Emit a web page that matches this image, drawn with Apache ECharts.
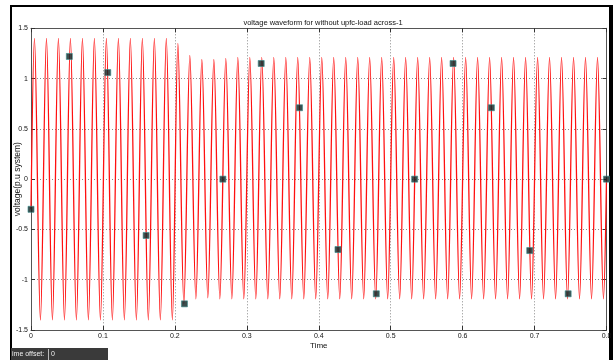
<!DOCTYPE html>
<html>
<head>
<meta charset="utf-8">
<script src="https://cdn.jsdelivr.net/npm/echarts@6/dist/echarts.min.js"></script>
<style>
  html, body { margin: 0; padding: 0; background: #fff; }
  #chart { width: 613px; height: 360px; }
</style>
</head>
<body>
<div id="chart"></div>
<script>
// waveform extrema (time in s, voltage in p.u)
const startPoint = [0, -0.3];
const endPoint = [0.8, 0];

const peakT = [0.0048, 0.0215, 0.0381, 0.0548, 0.0715, 0.0881, 0.1048, 0.1215, 0.1381, 0.1548, 0.1715, 0.1881,
  0.2042, 0.2208, 0.2375, 0.2542, 0.2708, 0.2875, 0.3042, 0.3208, 0.3375, 0.3542, 0.3708, 0.3875,
  0.4042, 0.4208, 0.4375, 0.4542, 0.4708, 0.4875, 0.5042, 0.5208, 0.5375, 0.5542, 0.5708, 0.5875,
  0.6042, 0.6208, 0.6375, 0.6542, 0.6708, 0.6875, 0.7042, 0.7208, 0.7375, 0.7542, 0.7708, 0.7875];
const peakV = [1.4, 1.4, 1.4, 1.4, 1.4, 1.4, 1.4, 1.4, 1.4, 1.4, 1.4, 1.4,
  1.35, 1.23, 1.19, 1.19, 1.2, 1.21, 1.21, 1.21, 1.21, 1.21, 1.21, 1.21,
  1.21, 1.21, 1.21, 1.21, 1.21, 1.21, 1.21, 1.21, 1.21, 1.21, 1.21, 1.21,
  1.21, 1.21, 1.21, 1.21, 1.21, 1.21, 1.21, 1.21, 1.21, 1.21, 1.21, 1.21];

const troughT = [0.0131, 0.0298, 0.0465, 0.0631, 0.0798, 0.0965, 0.1131, 0.1298, 0.1465, 0.1631, 0.1798, 0.1965,
  0.2125, 0.2292, 0.2458, 0.2625, 0.2792, 0.2958, 0.3125, 0.3292, 0.3458, 0.3625, 0.3792, 0.3958,
  0.4125, 0.4292, 0.4458, 0.4625, 0.4792, 0.4958, 0.5125, 0.5292, 0.5458, 0.5625, 0.5792, 0.5958,
  0.6125, 0.6292, 0.6458, 0.6625, 0.6792, 0.6958, 0.7125, 0.7292, 0.7458, 0.7625, 0.7792, 0.7958];
const troughV = [-1.4, -1.4, -1.4, -1.4, -1.4, -1.4, -1.4, -1.4, -1.4, -1.4, -1.4, -1.4,
  -1.24, -1.19, -1.18, -1.19, -1.19, -1.19, -1.19, -1.19, -1.19, -1.19, -1.19, -1.19,
  -1.19, -1.19, -1.19, -1.19, -1.19, -1.19, -1.19, -1.19, -1.19, -1.19, -1.19, -1.19,
  -1.19, -1.19, -1.19, -1.19, -1.19, -1.19, -1.19, -1.19, -1.19, -1.19, -1.19, -1.19];

// black square sample markers
const markT = [0, 0.0533, 0.1067, 0.16, 0.2133, 0.2667, 0.32, 0.3733, 0.4267, 0.48, 0.5333, 0.5867, 0.64, 0.6933, 0.7467, 0.8];
const markV = [-0.3, 1.22, 1.06, -0.56, -1.24, 0, 1.15, 0.71, -0.7, -1.14, 0, 1.15, 0.71, -0.71, -1.14, 0];

const wave = [startPoint]
  .concat(peakT.map((t, i) => [t, peakV[i]]))
  .concat(troughT.map((t, i) => [t, troughV[i]]))
  .concat([endPoint])
  .sort((a, b) => a[0] - b[0]);
const marks = markT.map((t, i) => [t, markV[i]]);

const font = "'Liberation Sans', Arial, sans-serif";
const chart = echarts.init(document.getElementById("chart"));

const axisBase = {
  axisLine: { show: true, onZero: false, lineStyle: { color: "#555", width: 1 } },
  axisTick: { show: true, inside: true, length: 4, lineStyle: { color: "#333" } },
};

chart.setOption({
  animation: false,
  backgroundColor: "#fff",
  title: {
    text: "voltage waveform for without upfc-load across-1",
    left: 318, top: 14, textAlign: "center",
    textStyle: { fontFamily: font, fontSize: 7.5, fontWeight: "normal", color: "#111" },
  },
  grid: { left: 31, right: 6.5, top: 28.3, bottom: 30, outerBoundsMode: "none", containLabel: false },
  xAxis: [
    {
      ...axisBase, type: "value", min: 0, max: 0.8, interval: 0.1,
      name: "Time", nameLocation: "middle", nameGap: 12, nameMoveOverlap: false,
      nameTextStyle: { fontFamily: font, fontSize: 8, color: "#111" },
      axisLabel: { fontFamily: font, fontSize: 7, color: "#111", margin: 3 },
      splitLine: { show: true, lineStyle: { color: "#8a8a8a", type: [1, 2] } },
    },
    {
      ...axisBase, type: "value", position: "top", min: 0, max: 0.8, interval: 0.1,
      axisLabel: { show: false }, splitLine: { show: false },
    },
  ],
  yAxis: [
    {
      ...axisBase, type: "value", min: -1.5, max: 1.5, interval: 0.5,
      name: "voltage(p.u system)", nameLocation: "middle", nameGap: 8.5, nameMoveOverlap: false,
      nameTextStyle: { fontFamily: font, fontSize: 8.5, color: "#111" },
      axisLabel: { fontFamily: font, fontSize: 7, color: "#111", margin: 3 },
      splitLine: { show: true, lineStyle: { color: "#8a8a8a", type: [1, 2] } },
    },
    {
      ...axisBase, type: "value", position: "right", min: -1.5, max: 1.5, interval: 0.5,
      axisLabel: { show: false }, splitLine: { show: false },
    },
  ],
  series: [
    {
      type: "line", data: wave, smooth: 0.34, symbol: "none",
      lineStyle: { color: "#ff1010", width: 1.3 }, clip: true,
    },
    {
      type: "scatter", data: marks, symbol: "rect", symbolSize: 6, clip: true, z: 5,
      itemStyle: { color: "#0b2222", borderColor: "#3a8a8a", borderWidth: 0.8 },
    },
  ],
  graphic: [
    { type: "rect", shape: { x: 10, y: 5, width: 603, height: 2 }, style: { fill: "#000" } },
    { type: "rect", shape: { x: 10, y: 5, width: 2, height: 355 }, style: { fill: "#000" } },
    { type: "rect", shape: { x: 609, y: 5, width: 4, height: 355 }, style: { fill: "#000" } },
    { type: "rect", shape: { x: 11, y: 348, width: 97, height: 12 }, style: { fill: "#3a3a3a" } },
    { type: "rect", shape: { x: 48, y: 349, width: 1, height: 11 }, style: { fill: "#bbb" } },
    { type: "text", x: 12, y: 354, style: { text: "ime offset:", fill: "#eee", font: "7px " + font, textVerticalAlign: "middle" } },
    { type: "text", x: 51, y: 354, style: { text: "0", fill: "#eee", font: "7px " + font, textVerticalAlign: "middle" } },
  ],
});
</script>
</body>
</html>
